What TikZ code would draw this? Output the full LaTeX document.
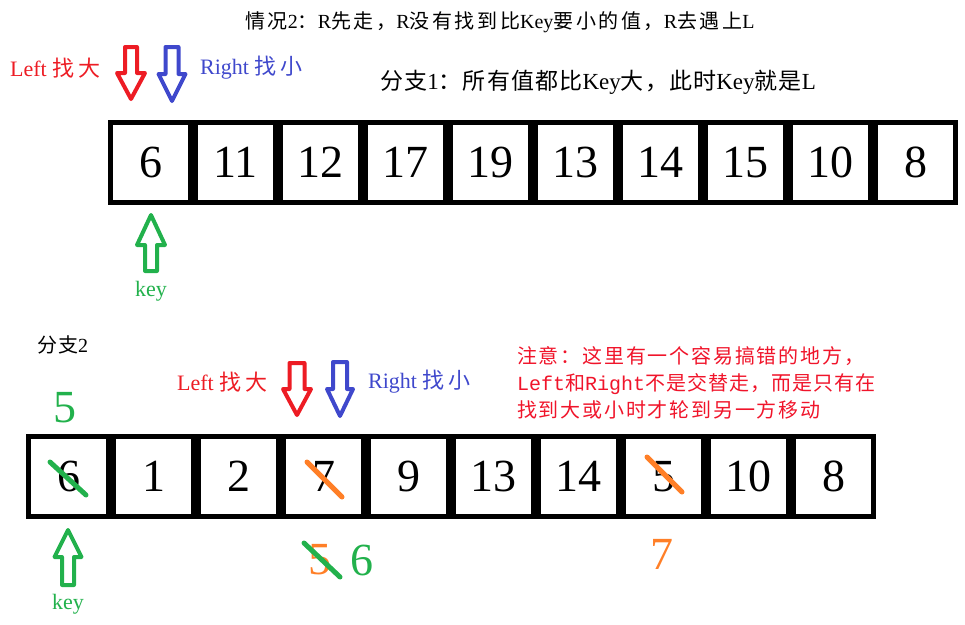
\documentclass[tikz,border=0pt]{standalone}
\usepackage{fontspec}
\setmainfont{Liberation Serif}
\newfontfamily\cjka[LetterSpace=13]{Noto Sans CJK SC}
\newfontfamily\cjkb[LetterSpace=5]{Noto Sans CJK SC}
\newfontfamily\cjkc[LetterSpace=17]{Noto Sans CJK SC}
\newfontfamily\cjkn[LetterSpace=9]{Noto Sans CJK SC}
\newfontfamily\monof{Liberation Mono}
\definecolor{pred}{HTML}{ED1C24}
\definecolor{pblue}{HTML}{3F48CC}
\definecolor{pgreen}{HTML}{22B14C}
\definecolor{porange}{HTML}{FF7F27}
\definecolor{nred}{HTML}{F0142A}
\newcommand{\fs}[1]{\fontsize{#1}{#1}\selectfont}
\newcommand{\downarr}[7]{% color, cx, top, headbase, tip, halfshaft, halfhead
  \draw[blockarrow,#1] (#2-#6,#3) -- (#2+#6,#3) -- (#2+#6,#4) -- (#2+#7,#4) -- (#2,#5) -- (#2-#7,#4) -- (#2-#6,#4) -- cycle;}
\begin{document}
\begin{tikzpicture}[x=1pt,y=-1pt,
  cell/.style={draw=black,line width=5pt,minimum size=80pt,inner sep=0pt,font=\fs{46}},
  blockarrow/.style={line width=4pt,line join=round},
  strike/.style={line width=5pt,line cap=round},
  lbl/.style={anchor=west,inner sep=0pt}]
\useasboundingbox (0,0) rectangle (965,624);
% top texts
\node[lbl,font=\fs{20}] (t1) at (245,22) {{\cjka 情况}2{\cjka ：}R{\cjka 先走，}R{\cjka 没有找到比}Key{\cjka 要小的值，}R{\cjka 去遇上}L};
\node[lbl,font=\fs{23}] (t2) at (380,82) {{\cjkb 分支}1{\cjkb ：所有值都比}Key{\cjkb 大，此时}Key{\cjkb 就是}L};
\node[lbl,font=\fs{22},text=pred] (lt) at (10,68) {Left {\cjkc 找大}};
\node[lbl,font=\fs{22},text=pblue] (rt) at (200,68) {Right {\cjkc 找小}};
\downarr{pred}{131}{47}{73}{99}{6}{14}
\downarr{pblue}{172}{47}{74}{101}{6.5}{13.5}
% top array
\foreach \v [count=\i from 0] in {6,11,12,17,19,13,14,15,10,8}
  \node[cell] (a\i) at (150.5+85*\i,162.5) {\v};
\downarr{pgreen}{151}{271}{245}{215}{6}{14}
\node[font=\fs{22},text=pgreen] (k1) at (151,291) {key};
% bottom
\node[lbl,font=\fs{20}] (f2) at (37,345) {{\cjkb 分支}2};
\node[font=\fs{46},text=pgreen] (g5) at (65,408) {5};
\node[lbl,font=\fs{22},text=pred] (lb) at (177,382) {Left {\cjkc 找大}};
\node[lbl,font=\fs{22},text=pblue] (rb) at (368,382) {Right {\cjkc 找小}};
\downarr{pred}{297}{363}{389}{415}{7.5}{14}
\downarr{pblue}{340}{362}{389}{416}{7}{13}
\node[lbl,font=\fs{20},text=nred] (n1) at (517,356) {\cjkn 注意：这里有一个容易搞错的地方，};
\node[lbl,font=\fs{20},text=nred] (n2) at (517,384) {{\monof Left}{\cjkb 和}{\monof Right}{\cjkb 不是交替走，而是只有在}};
\node[lbl,font=\fs{20},text=nred] (n3) at (517,410) {\cjkn 找到大或小时才轮到另一方移动};
\foreach \v [count=\i from 0] in {6,1,2,7,9,13,14,5,10,8}
  \node[cell] (b\i) at (68.5+85*\i,476.5) {\v};
\draw[strike,pgreen] (50,462) -- (86,495);
\draw[strike,porange] (307,462) -- (342,497);
\draw[strike,porange] (647,457) -- (682,492);
\downarr{pgreen}{68}{585}{557}{530}{6}{13.5}
\node[font=\fs{22},text=pgreen] (k2) at (68,604) {key};
\node[font=\fs{46},text=porange] (o5) at (320,560) {5};
\draw[strike,pgreen] (304,543) -- (340,577);
\node[font=\fs{46},text=pgreen] (g6) at (362,560) {6};
\node[font=\fs{46},text=porange] (o7) at (662,554) {7};
\end{tikzpicture}
\end{document}
